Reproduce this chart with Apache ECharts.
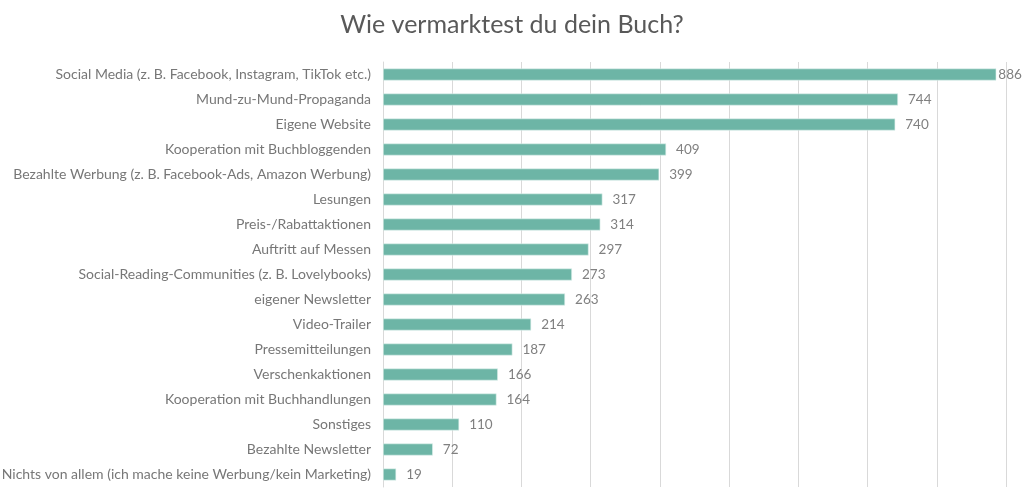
<!DOCTYPE html>
<html>
<head>
<meta charset="utf-8">
<script src="https://cdn.jsdelivr.net/npm/echarts@6/dist/echarts.min.js"></script>
<style>
html,body{margin:0;padding:0;background:#fff;}
#chart{width:1024px;height:499px;}
</style>
</head>
<body>
<div id="chart"></div>
<script>
const titleText = 'Wie vermarktest du dein Buch?';
const categories = [
  'Social Media (z. B. Facebook, Instagram, TikTok etc.)',
  'Mund-zu-Mund-Propaganda',
  'Eigene Website',
  'Kooperation mit Buchbloggenden',
  'Bezahlte Werbung (z. B. Facebook-Ads, Amazon Werbung)',
  'Lesungen',
  'Preis-/Rabattaktionen',
  'Auftritt auf Messen',
  'Social-Reading-Communities (z. B. Lovelybooks)',
  'eigener Newsletter',
  'Video-Trailer',
  'Pressemitteilungen',
  'Verschenkaktionen',
  'Kooperation mit Buchhandlungen',
  'Sonstiges',
  'Bezahlte Newsletter',
  'Nichts von allem (ich mache keine Werbung/kein Marketing)'
];
const values = [886, 744, 740, 409, 399, 317, 314, 297, 273, 263, 214, 187, 166, 164, 110, 72, 19];
const xMin = 0, xMax = 900, xInterval = 100;

const chart = echarts.init(document.getElementById('chart'));
const fontFam = 'Lato, "Open Sans", sans-serif';
chart.setOption({
  animation: false,
  backgroundColor: '#fff',
  title: {
    text: titleText,
    left: 'center',
    top: 7,
    textStyle: {fontFamily: fontFam, fontSize: 25, fontWeight: 'normal', color: '#595959'}
  },
  grid: {left: 383, right: 18, top: 62, bottom: 12, containLabel: false, outerBoundsMode: 'none'},
  xAxis: {
    type: 'value', min: xMin, max: xMax, interval: xInterval,
    axisLabel: {show: false},
    axisLine: {show: false},
    axisTick: {show: false},
    splitLine: {show: true, lineStyle: {color: '#d9d9d9', width: 1}}
  },
  yAxis: {
    type: 'category', data: categories, inverse: true,
    axisLine: {show: true, lineStyle: {color: '#d9d9d9'}},
    axisTick: {show: false},
    axisLabel: {fontFamily: fontFam, fontSize: 14, color: '#777777', margin: 12}
  },
  series: [{
    type: 'bar',
    data: values.map(v => ({value: v, label: {distance: v > 850 ? 2 : 10}})),
    barWidth: 12,
    itemStyle: {color: '#6db5a6', borderColor: '#e3f1ee', borderWidth: 0.6},
    label: {show: true, position: 'right', fontFamily: fontFam, fontSize: 13.5, color: '#808080'}
  }]
});
</script>
</body>
</html>
